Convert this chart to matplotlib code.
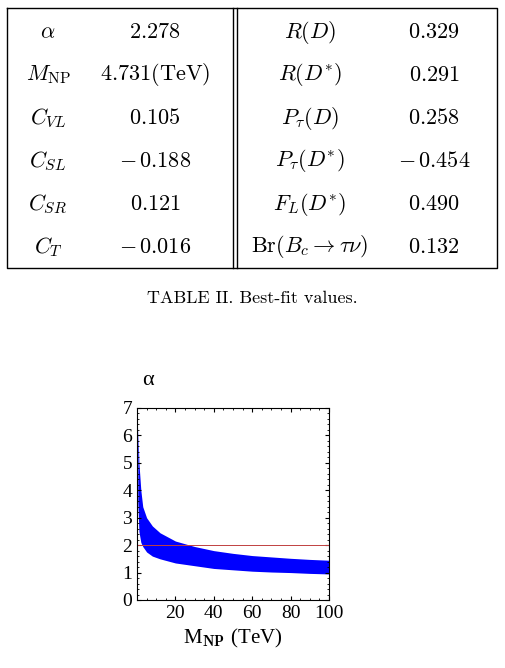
import matplotlib
matplotlib.use('Agg')
import matplotlib.pyplot as plt

plt.rcParams['mathtext.fontset'] = 'cm'
plt.rcParams['font.family'] = 'DejaVu Serif'

# table contents
left_names = [r'$\alpha$', r'$M_{\rm NP}$', r'$C_{VL}$', r'$C_{SL}$', r'$C_{SR}$', r'$C_T$']
left_vals = [r'$\mathrm{2.278}$', r'$\mathrm{4.731(TeV)}$', r'$\mathrm{0.105}$',
             r'$-\,\mathrm{0.188}$', r'$\mathrm{0.121}$', r'$-\,\mathrm{0.016}$']
right_names = [r'$R(D)$', r'$R(D^{*})$', r'$P_\tau(D)$', r'$P_\tau(D^{*})$', r'$F_L(D^{*})$',
               r'$\mathrm{Br}(B_c\rightarrow\tau\nu)$']
right_vals = [r'$\mathrm{0.329}$', r'$\mathrm{0.291}$', r'$\mathrm{0.258}$',
              r'$-\,\mathrm{0.454}$', r'$\mathrm{0.490}$', r'$\mathrm{0.132}$']

# scatter band boundaries
band_x = [0.4, 1, 2, 3, 5, 8, 12, 20, 30, 40, 50, 60, 70, 80, 90, 100]
band_hi = [6.3, 5.0, 4.0, 3.4, 3.0, 2.7, 2.45, 2.15, 1.95, 1.8, 1.7, 1.62, 1.57, 1.52, 1.48, 1.45]
band_lo = [3.6, 2.5, 2.1, 1.95, 1.75, 1.6, 1.5, 1.35, 1.25, 1.15, 1.1, 1.05, 1.02, 1.0, 0.97, 0.95]
best_alpha = 2.0

W, H = 505, 668
fig = plt.figure(figsize=(W / 100, H / 100), dpi=100)

# table drawn in pixel coordinates on an overlay axes
tab = fig.add_axes([0, 0, 1, 1])
tab.set_xlim(0, W)
tab.set_ylim(H, 0)
tab.axis('off')
tab.plot([7, 497, 497, 7, 7], [8, 8, 268, 268, 8], color='k', lw=1)
for xv in (233, 237):
    tab.plot([xv, xv], [8, 268], color='k', lw=1)
rows_y = [32, 75, 118, 161, 204, 247]
fs = 16
for i, y in enumerate(rows_y):
    tab.text(48, y, left_names[i], ha='center', va='center', fontsize=fs)
    tab.text(155, y, left_vals[i], ha='center', va='center', fontsize=fs)
    tab.text(310, y, right_names[i], ha='center', va='center', fontsize=fs)
    tab.text(434, y, right_vals[i], ha='center', va='center', fontsize=fs)
tab.text(252, 298, 'TABLE II. Best-fit values.', ha='center', va='center', fontsize=13,
         family='cmr10')

# scatter plot
ax = fig.add_axes([137 / W, 1 - 600 / H, 192 / W, 192 / H])
ax.fill_between(band_x, band_lo, band_hi, color='blue', lw=0)
ax.axhline(best_alpha, color='#c04040', lw=0.7)
ax.set_xlim(0, 100)
ax.set_ylim(0, 7)
ax.set_xticks([20, 40, 60, 80, 100])
ax.set_yticks(range(8))
ax.tick_params(labelsize=14, direction='in', top=True, right=True, length=3)
ax.minorticks_on()
ax.tick_params(which='minor', direction='in', top=True, right=True, length=1.5)
for lab in ax.get_xticklabels() + ax.get_yticklabels():
    lab.set_family('Liberation Serif')
ax.set_xlabel(r'M$_{\mathbf{NP}}$ (TeV)', fontsize=15, family='Liberation Serif')
fig.text(148 / W, 1 - 380 / H, 'α', fontsize=16, family='Liberation Serif', ha='center', va='center')

fig.savefig('out.png', dpi=100)
